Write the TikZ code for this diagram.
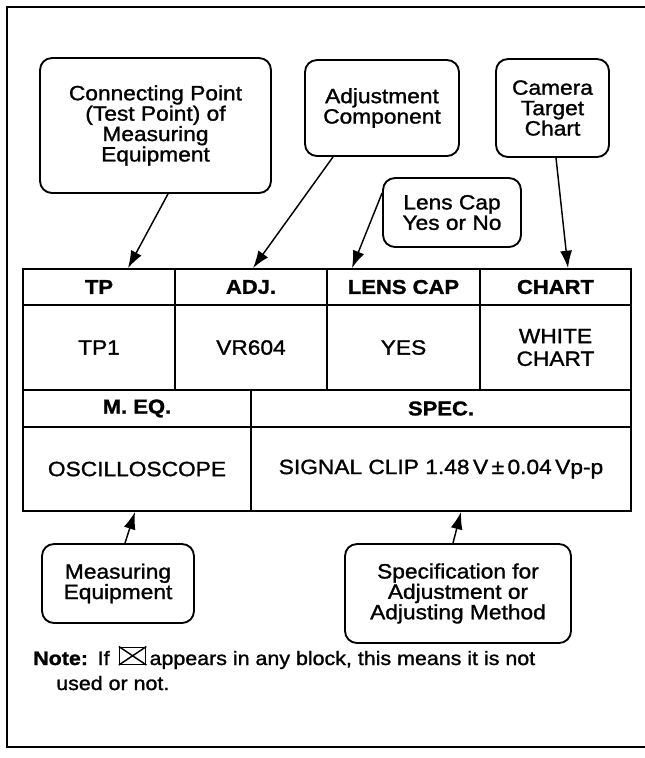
\documentclass[tikz,border=0pt]{standalone}
\usepackage{fontspec}
\setmainfont{Liberation Sans}[FakeStretch=1.1, FakeBold=1.3]
\usetikzlibrary{arrows.meta,calc}
\newlength\pxu \setlength\pxu{0.75pt}
\begin{document}
\begin{tikzpicture}[x=0.75pt,y=-0.75pt,
  every node/.style={font=\fontsize{15.5}{15.3}\selectfont},
  callout/.style={draw, line width=1.4pt, rounded corners=9pt, align=center, inner sep=0pt},
  cell/.style={draw, line width=1.4pt, align=center, inner sep=0pt},
  hcell/.style={cell, font=\fontsize{15}{15}\selectfont\bfseries},
  arr/.style={line width=1.1pt, -{Latex[length=13pt,width=9pt]}},
  framestyle/.style={line width=1.5pt},
  notetxt/.style={inner sep=0pt, font=\fontsize{14.6}{15}\selectfont}]
\useasboundingbox (0,0) rectangle (645,758);
% outer frame
\draw[framestyle] (645,7) -- (7,7) -- (7,747) -- (645,747);
% callout boxes
\node[callout, minimum width=231\pxu, minimum height=135\pxu] (box1) at (155.5,125.5)
  {Connecting Point\\(Test Point) of\\Measuring\\Equipment};
\node[callout, minimum width=154\pxu, minimum height=96\pxu] (box2) at (382,108)
  {Adjustment\\Component};
\node[callout, minimum width=113\pxu, minimum height=98\pxu] (box3) at (552.5,108)
  {Camera\\Target\\Chart};
\node[callout, minimum width=138\pxu, minimum height=69\pxu] (box4) at (452,212.5)
  {Lens Cap\\Yes or No};
\node[callout, minimum width=152\pxu, minimum height=79\pxu] (box5) at (118,583.5)
  {Measuring\\Equipment};
\node[callout, minimum width=226\pxu, minimum height=99\pxu] (box6) at (458,593.5)
  {Specification for\\Adjustment or\\Adjusting Method};
% table
\node[hcell, minimum width=152\pxu, minimum height=36\pxu] (tph) at (99,287) {TP};
\node[hcell, minimum width=152\pxu, minimum height=36\pxu] (adjh) at (251,287) {ADJ.};
\node[hcell, minimum width=153\pxu, minimum height=36\pxu] (lensh) at (403.5,287) {LENS CAP};
\node[hcell, minimum width=151\pxu, minimum height=36\pxu] (charth) at (555.5,287) {CHART};
\node[cell, minimum width=152\pxu, minimum height=85\pxu] (tpv) at (99,347.5) {TP1};
\node[cell, minimum width=152\pxu, minimum height=85\pxu] (adjv) at (251,347.5) {VR604};
\node[cell, minimum width=153\pxu, minimum height=85\pxu] (lensv) at (403.5,347.5) {YES};
\node[cell, minimum width=151\pxu, minimum height=85\pxu, font=\fontsize{15.5}{17}\selectfont] (chartv) at (555.5,347.5) {WHITE\\CHART};
\node[hcell, minimum width=228\pxu, minimum height=37\pxu] (meqh) at (137,408.5) {M. EQ.};
\node[hcell, minimum width=380\pxu, minimum height=37\pxu] (spech) at (441,408.5) {SPEC.};
\node[cell, minimum width=228\pxu, minimum height=84\pxu] (meqv) at (137,469) {OSCILLOSCOPE};
\node[cell, minimum width=380\pxu, minimum height=84\pxu] (specv) at (441,469)
  {SIGNAL CLIP 1.48\,V\,±\,0.04\,Vp-p};
% arrows
\draw[arr] ($(box1.south)+(12.5,0)$) -- ($(tph.north)+(29,0)$);
\draw[arr] ($(box2.south)+(-49,0)$) -- ($(adjh.north)+(2,0)$);
\draw[arr] ($(box4.west)+(0,-19.5)$) -- ($(lensh.north)+(-51.5,0)$);
\draw[arr] ($(box3.south)+(3.5,0)$) -- ($(charth.north)+(12.5,0)$);
\draw[arr] ($(box5.north)+(7,0)$) -- ($(meqv.south)+(-2,0)$);
\draw[arr] ($(box6.north)+(-5,0)$) -- ($(specv.south)+(20,0)$);
% note
\node[notetxt, anchor=base west] (noteA) at (33,665) {\textbf{Note:}\enspace If};
\node[draw, line width=1.1pt, minimum width=26\pxu, minimum height=17\pxu, inner sep=0pt,
  anchor=south west] (xbox) at ($(noteA.base east)+(9,0)$) {};
\draw[line width=1.1pt] (xbox.north west) -- (xbox.south east) (xbox.south west) -- (xbox.north east);
\node[notetxt, anchor=base west] (noteB) at ($(xbox.south east)+(3,0)$)
  {appears in any block, this means it is not};
\node[notetxt, anchor=base west] (noteC) at (56,690) {used or not.};
\end{tikzpicture}
\end{document}
